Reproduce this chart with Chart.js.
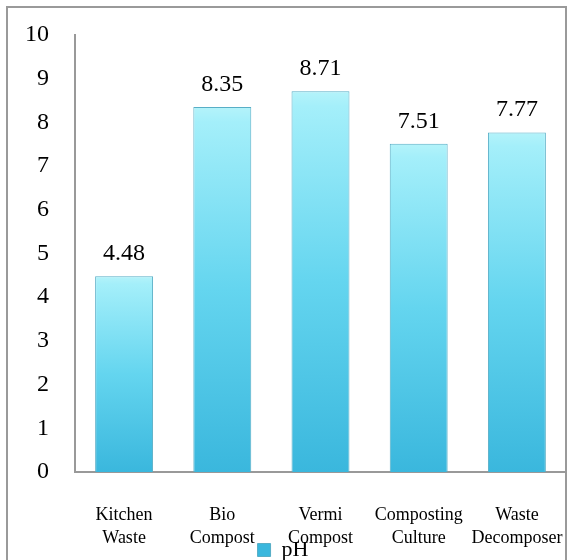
<!DOCTYPE html>
<html>
<head>
<meta charset="utf-8">
<script src="https://cdn.jsdelivr.net/npm/chart.js@4"></script>
<style>
    html, body { margin: 0; padding: 0; background: #fff; }
    #wrap { width: 569px; height: 560px; }
</style>
</head>
<body>
<div id="wrap"><canvas id="phChart" width="569" height="560"></canvas></div>
<script>
// chart data
const categories = [['Kitchen', 'Waste'], ['Bio', 'Compost'], ['Vermi', 'Compost'], ['Composting', 'Culture'], ['Waste', 'Decomposer']];
const phValues = [4.48, 8.35, 8.71, 7.51, 7.77];
const yTicks = [0, 1, 2, 3, 4, 5, 6, 7, 8, 9, 10];
const seriesName = 'pH';

const serif = "'Liberation Serif', 'Times New Roman', serif";

// grey frame around the whole picture
const framePlugin = {
    id: 'frame',
    beforeDraw(chart) {
        const ctx = chart.ctx;
        ctx.save();
        ctx.strokeStyle = '#9a9a9a';
        ctx.lineWidth = 2;
        ctx.strokeRect(7, 7, chart.width - 10, chart.height + 10);
        ctx.restore();
    },
    // let the two-line category labels run down under the legend
    afterLayout(chart) {
        chart.scales.x.bottom = chart.height;
    }
};

// value above every bar
const valueLabels = {
    id: 'valueLabels',
    afterDatasetsDraw(chart) {
        const ctx = chart.ctx;
        ctx.save();
        ctx.font = '24px ' + serif;
        ctx.fillStyle = '#000';
        ctx.textAlign = 'center';
        ctx.textBaseline = 'alphabetic';
        chart.getDatasetMeta(0).data.forEach(function (bar, i) {
            ctx.fillText(phValues[i].toFixed(2), bar.x, bar.y - 16);
        });
        ctx.restore();
    }
};

function barFill(context) {
    const chart = context.chart;
    if (context.type !== 'data' || !chart.chartArea) return '#4fc6e6';
    const yScale = chart.scales.y;
    const top = yScale.getPixelForValue(context.raw);
    const bottom = yScale.getPixelForValue(0);
    const g = chart.ctx.createLinearGradient(0, top, 0, bottom);
    g.addColorStop(0, '#b4f3fa');
    g.addColorStop(0.04, '#a4effa');
    g.addColorStop(0.5, '#64d5ef');
    g.addColorStop(1, '#3ab7dd');
    return g;
}

const ctx = document.getElementById('phChart').getContext('2d');

new Chart(ctx, {
    type: 'bar',
    data: {
        labels: categories,
        datasets: [{
            label: seriesName,
            data: phValues,
            backgroundColor: barFill,
            borderColor: '#58aec6',
            borderWidth: 1,
            categoryPercentage: 1,
            barPercentage: 0.59
        }]
    },
    options: {
        responsive: false,
        animation: false,
        layout: { padding: { top: 35, right: 3, left: 0, bottom: -11 } },
        plugins: {
            tooltip: { enabled: false },
            legend: {
                position: 'bottom',
                labels: {
                    boxWidth: 13,
                    boxHeight: 13,
                    padding: 2,
                    color: '#000',
                    font: { family: serif, size: 22 }
                }
            }
        },
        scales: {
            x: {
                grid: { display: false },
                border: { display: true, color: '#999', width: 2 },
                ticks: {
                    color: '#000',
                    padding: 24,
                    maxRotation: 0,
                    autoSkip: false,
                    font: { family: serif, size: 18, lineHeight: 1.28 }
                },
                afterFit(scale) {
                    scale.height = 65;
                    scale.paddingLeft = 0;
                    scale.paddingRight = 0;
                }
            },
            y: {
                min: 0,
                max: 10,
                afterBuildTicks(scale) { scale.ticks = yTicks.map(v => ({ value: v })); },
                grid: { display: false },
                border: { display: true, color: '#999', width: 2 },
                ticks: {
                    color: '#000',
                    padding: 18,
                    font: { family: serif, size: 24 }
                },
                afterFit(scale) { scale.width = 75; }
            }
        }
    },
    plugins: [framePlugin, valueLabels]
});
</script>
</body>
</html>
